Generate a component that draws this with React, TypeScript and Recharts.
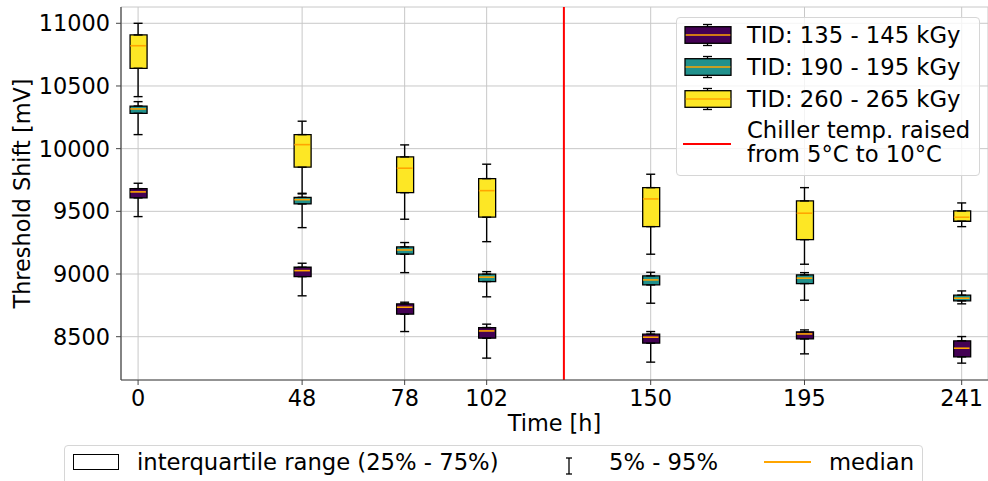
import React from "react";
import {
  Bar,
  CartesianGrid,
  ComposedChart,
  ErrorBar,
  Legend,
  ReferenceLine,
  Scatter,
  XAxis,
  YAxis,
} from "recharts";

const TIMES = [0, 48, 78, 102, 150, 195, 241];
const SERIES = ["TID: 135 - 145 kGy", "TID: 190 - 195 kGy", "TID: 260 - 265 kGy"];
const COLORS = ["#440154", "#21918c", "#fde725"];
const Y_TICKS = [8500, 9000, 9500, 10000, 10500, 11000];
const CHILLER_TIME = 124.6;
const MEDIAN_COLOR = "#ffa500";

// per series (purple, teal, yellow), one value per time
const P05 = [
  [9458, 8826, 8541, 8329, 8297, 8363, 8289],
  [10112, 9370, 9011, 8818, 8767, 8791, 8762],
  [10415, 9644, 9437, 9258, 9158, 9078, 9378],
];
const Q25 = [
  [9607, 8979, 8680, 8488, 8448, 8482, 8339],
  [10282, 9559, 9158, 8940, 8913, 8924, 8786],
  [10641, 9852, 9649, 9453, 9378, 9274, 9421],
];
const MEDIAN = [
  [9655, 9027, 8735, 8546, 8496, 8522, 8408],
  [10317, 9593, 9192, 8975, 8953, 8967, 8807],
  [10821, 10032, 9844, 9665, 9599, 9485, 9453],
];
const Q75 = [
  [9681, 9054, 8762, 8573, 8520, 8538, 8467],
  [10340, 9612, 9216, 8999, 8985, 8993, 8831],
  [10907, 10112, 9934, 9761, 9689, 9583, 9503],
];
const P95 = [
  [9724, 9086, 8775, 8600, 8541, 8554, 8501],
  [10375, 9639, 9251, 9019, 9014, 9011, 8865],
  [11000, 10219, 10030, 9876, 9796, 9689, 9567],
];

const X_DOMAIN = [-5, 248.7];
const Y_DOMAIN = [8154.5, 11130];
const BOX_W = 17;
const AXIS_FONT = 22.4;
const LEGEND_FONT = 22.7;

const rows = TIMES.map((t, i) => {
  const row: any = { t };
  SERIES.forEach((_, s) => {
    row[`box${s}`] = [Q25[s][i], Q75[s][i]];
    row[`q25_${s}`] = Q25[s][i];
    row[`q75_${s}`] = Q75[s][i];
    row[`med${s}`] = MEDIAN[s][i];
    row[`lo${s}`] = [Q25[s][i] - P05[s][i], 0];
    row[`hi${s}`] = [0, P95[s][i] - Q75[s][i]];
  });
  return row;
});

const Empty = () => <g />;

const MedianMark = (p: any) => (
  <line
    x1={p.cx - BOX_W / 2 + 0.7}
    x2={p.cx + BOX_W / 2 - 0.7}
    y1={p.cy}
    y2={p.cy}
    stroke={MEDIAN_COLOR}
    strokeWidth={1.6}
  />
);

const BoxIcon = ({ color }: { color: string }) => (
  <svg width={48} height={32} style={{ display: "block" }}>
    <line x1={23.5} x2={23.5} y1={5.5} y2={26.5} stroke="#000" strokeWidth={1.3} />
    <line x1={19} x2={28} y1={5.5} y2={5.5} stroke="#000" strokeWidth={1.3} />
    <line x1={19} x2={28} y1={26.5} y2={26.5} stroke="#000" strokeWidth={1.3} />
    <rect x={1} y={7.7} width={46} height={16.6} fill={color} stroke="#000" strokeWidth={1.3} />
    <line x1={1.7} x2={46.3} y1={16} y2={16} stroke={MEDIAN_COLOR} strokeWidth={1.5} />
  </svg>
);

const TopLegend = () => (
  <div
    style={{
      position: "relative",
      width: 304,
      height: 159,
      boxSizing: "border-box",
      border: "1px solid #d6d6d6",
      borderRadius: 4,
      background: "rgba(255,255,255,0.8)",
      fontSize: LEGEND_FONT,
      color: "#000",
    }}
  >
    {SERIES.map((name, s) => (
      <React.Fragment key={name}>
        <div style={{ position: "absolute", left: 7, top: 1 + s * 32 }}>
          <BoxIcon color={COLORS[s]} />
        </div>
        <div
          style={{
            position: "absolute",
            left: 70,
            top: 1 + s * 32,
            lineHeight: "32px",
            whiteSpace: "nowrap",
          }}
        >
          {name}
        </div>
      </React.Fragment>
    ))}
    <div
      style={{
        position: "absolute",
        left: 6,
        top: 125,
        width: 48,
        height: 2,
        background: "#ff0000",
      }}
    />
    <div
      style={{
        position: "absolute",
        left: 70,
        top: 100,
        lineHeight: "24px",
        whiteSpace: "nowrap",
      }}
    >
      Chiller temp. raised
      <br />
      from 5°C to 10°C
    </div>
  </div>
);

const BottomLegend = () => (
  <div
    style={{
      position: "absolute",
      left: 64,
      top: 445,
      width: 859,
      height: 60,
      boxSizing: "border-box",
      border: "1px solid #d6d6d6",
      borderRadius: 4,
      background: "#fff",
      fontSize: LEGEND_FONT,
      color: "#000",
    }}
  >
    <div
      style={{
        position: "absolute",
        left: 8,
        top: 8,
        width: 46,
        height: 16,
        boxSizing: "border-box",
        border: "1.3px solid #000",
      }}
    />
    <div style={{ position: "absolute", left: 72, top: 0, lineHeight: "32px", whiteSpace: "nowrap" }}>
      interquartile range (25% - 75%)
    </div>
    <svg style={{ position: "absolute", left: 498, top: 11 }} width={12} height={18}>
      <line x1={6} x2={6} y1={1} y2={17} stroke="#000" strokeWidth={1.3} />
      <line x1={3} x2={9} y1={1} y2={1} stroke="#000" strokeWidth={1.3} />
      <line x1={3} x2={9} y1={17} y2={17} stroke="#000" strokeWidth={1.3} />
    </svg>
    <div style={{ position: "absolute", left: 544, top: 0, lineHeight: "32px", whiteSpace: "nowrap" }}>
      5% - 95%
    </div>
    <div
      style={{
        position: "absolute",
        left: 699,
        top: 15,
        width: 47,
        height: 2,
        background: MEDIAN_COLOR,
      }}
    />
    <div style={{ position: "absolute", left: 764, top: 0, lineHeight: "32px", whiteSpace: "nowrap" }}>
      median
    </div>
  </div>
);

export default function App() {
  return (
    <div
      style={{
        position: "absolute",
        left: 0,
        top: 0,
        width: 988,
        height: 481,
        overflow: "hidden",
        background: "#fff",
        fontFamily: '"DejaVu Sans", sans-serif',
      }}
    >
      <ComposedChart
        width={988}
        height={481}
        data={rows}
        margin={{ top: 7, right: 0, bottom: 0, left: 0 }}
      >
        <CartesianGrid stroke="#c8c8c8" strokeWidth={1} />
        <XAxis
          type="number"
          dataKey="t"
          domain={X_DOMAIN}
          allowDataOverflow
          ticks={TIMES}
          interval={0}
          height={101}
          tickSize={5}
          tickMargin={5}
          tick={{ fontSize: AXIS_FONT, fill: "#000" }}
          axisLine={{ stroke: "#444", strokeWidth: 1.2 }}
          tickLine={{ stroke: "#444" }}
          label={{ value: "Time [h]", position: "insideTop", offset: 35, fontSize: AXIS_FONT, fill: "#000" }}
        />
        <XAxis
          xAxisId="top"
          orientation="top"
          type="number"
          dataKey="t"
          domain={X_DOMAIN}
          allowDataOverflow
          height={0}
          tick={false}
          tickLine={false}
          axisLine={{ stroke: "#444", strokeWidth: 1.2 }}
        />
        {SERIES.map((_, s) => (
          <XAxis
            key={`bx${s}`}
            xAxisId={`b${s}`}
            type="number"
            dataKey="t"
            domain={X_DOMAIN}
            allowDataOverflow
            hide
          />
        ))}
        <YAxis
          type="number"
          domain={Y_DOMAIN}
          allowDataOverflow
          ticks={Y_TICKS}
          interval={0}
          width={121}
          tickSize={5}
          tickMargin={6}
          tick={{ fontSize: AXIS_FONT, fill: "#000" }}
          axisLine={{ stroke: "#444", strokeWidth: 1.2 }}
          tickLine={{ stroke: "#444" }}
          label={{
            value: "Threshold Shift [mV]",
            angle: -90,
            position: "insideLeft",
            offset: 22,
            fontSize: AXIS_FONT,
            fill: "#000",
            style: { textAnchor: "middle" },
          }}
        />
        <ReferenceLine x={CHILLER_TIME} stroke="#ff0000" strokeWidth={2} />
        {SERIES.map((name, s) => (
          <Bar
            key={`box${s}`}
            xAxisId={`b${s}`}
            dataKey={`box${s}`}
            name={name}
            barSize={BOX_W}
            fill={COLORS[s]}
            stroke="#000"
            strokeWidth={1.3}
            isAnimationActive={false}
          />
        ))}
        {SERIES.map((_, s) => (
          <Scatter key={`lo${s}`} dataKey={`q25_${s}`} shape={Empty} isAnimationActive={false}>
            <ErrorBar dataKey={`lo${s}`} direction="y" width={4.5} stroke="#000" strokeWidth={1.4} />
          </Scatter>
        ))}
        {SERIES.map((_, s) => (
          <Scatter key={`hi${s}`} dataKey={`q75_${s}`} shape={Empty} isAnimationActive={false}>
            <ErrorBar dataKey={`hi${s}`} direction="y" width={4.5} stroke="#000" strokeWidth={1.4} />
          </Scatter>
        ))}
        {SERIES.map((_, s) => (
          <Scatter key={`med${s}`} dataKey={`med${s}`} shape={MedianMark} isAnimationActive={false} />
        ))}
        <Legend
          layout="horizontal"
          verticalAlign="middle"
          align="center"
          content={() => <TopLegend />}
          wrapperStyle={{ position: "absolute", left: 676, top: 17, width: 304, height: 159 }}
        />
      </ComposedChart>
      <BottomLegend />
    </div>
  );
}
